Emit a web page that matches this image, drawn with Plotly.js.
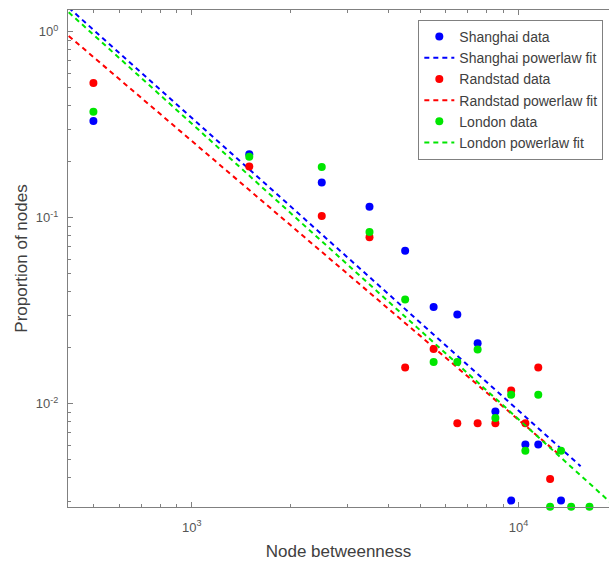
<!DOCTYPE html>
<html>
<head>
<meta charset="utf-8">
<script src="https://cdn.plot.ly/plotly-3.0.1.min.js"></script>
<style>
html,body{margin:0;padding:0;background:#fff;}
#chart{width:609px;height:561px;}
</style>
</head>
<body>
<div id="chart"></div>
<script>
// Bin centres of node betweenness
const shanghaiX = [500, 1500, 2500, 3500, 4500, 5500, 6500, 7500, 8500, 9500, 10500, 11500, 13500];
const shanghaiY = [0.332, 0.220, 0.155, 0.1146, 0.0665, 0.0332, 0.0302, 0.0212, 0.0091, 0.00302, 0.00604, 0.00604, 0.00302];

const randstadX = [500, 1500, 2500, 3500, 4500, 5500, 6500, 7500, 8500, 9500, 10500, 11500, 12500];
const randstadY = [0.5315, 0.189, 0.1024, 0.0787, 0.0157, 0.0197, 0.00787, 0.00787, 0.00787, 0.0118, 0.00787, 0.0157, 0.00394];

const londonX = [500, 1500, 2500, 3500, 4500, 5500, 6500, 7500, 8500, 9500, 10500, 11500, 12500, 13500, 14500, 16500];
const londonY = [0.3725, 0.213, 0.1877, 0.084, 0.0364, 0.0168, 0.0168, 0.0196, 0.0084, 0.0112, 0.0056, 0.0112, 0.0028, 0.0056, 0.0028, 0.0028];

// Power-law fit lines: end points
const shanghaiFitX = [420, 15500];
const shanghaiFitY = [1.35, 0.00462];
const randstadFitX = [420, 13500];
const randstadFitY = [0.951, 0.00524];
const londonFitX = [420, 20000];
const londonFitY = [1.274, 0.00275];

const xTickVals = [1000, 10000];
const xTickText = ['10<sup>3</sup>', '10<sup>4</sup>'];
const yTickVals = [0.01, 0.1, 1];
const yTickText = ['10<sup>-2</sup>', '10<sup>-1</sup>', '10<sup>0</sup>'];
const xMinorVals = [500, 600, 700, 800, 900, 2000, 3000, 4000, 5000, 6000, 7000, 8000, 9000];
const yMinorVals = [0.003, 0.004, 0.005, 0.006, 0.007, 0.008, 0.009,
                    0.02, 0.03, 0.04, 0.05, 0.06, 0.07, 0.08, 0.09,
                    0.2, 0.3, 0.4, 0.5, 0.6, 0.7, 0.8, 0.9];

const BLUE = '#0000ff', RED = '#ff0000', GREEN = '#00e600';
const mk = (c) => ({color: c, size: 8});
const ln = (c) => ({color: c, width: 2, dash: '5px,4px'});

const traces = [
  {x: shanghaiX, y: shanghaiY, mode: 'markers', name: 'Shanghai data', marker: mk(BLUE), cliponaxis: false},
  {x: shanghaiFitX, y: shanghaiFitY, mode: 'lines', name: 'Shanghai powerlaw fit', line: ln(BLUE)},
  {x: randstadX, y: randstadY, mode: 'markers', name: 'Randstad data', marker: mk(RED), cliponaxis: false},
  {x: randstadFitX, y: randstadFitY, mode: 'lines', name: 'Randstad powerlaw fit', line: ln(RED)},
  {x: londonX, y: londonY, mode: 'markers', name: 'London data', marker: mk(GREEN), cliponaxis: false},
  {x: londonFitX, y: londonFitY, mode: 'lines', name: 'London powerlaw fit', line: ln(GREEN)}
];

const axisCommon = {
  type: 'log',
  showgrid: false,
  zeroline: false,
  showline: true,
  linecolor: '#808080',
  linewidth: 1,
  ticks: 'inside',
  ticklen: 5,
  tickcolor: '#808080',
  tickfont: {family: 'Liberation Sans, Arial, sans-serif', size: 13, color: '#555555'},
  tickmode: 'array'
};

const layout = {
  width: 609,
  height: 561,
  margin: {l: 68, r: 0, t: 10, b: 54},
  paper_bgcolor: '#ffffff',
  plot_bgcolor: '#ffffff',
  font: {family: 'Liberation Sans, Arial, sans-serif', color: '#404040'},
  showlegend: true,
  xaxis: Object.assign({}, axisCommon, {
    range: [Math.log10(418), 4.2772],
    tickvals: xTickVals,
    ticktext: xTickText,
    mirror: 'ticks',
    ticklabelstandoff: 8,
    minor: {tickmode: 'array', tickvals: xMinorVals, ticks: 'inside', ticklen: 3, tickcolor: '#808080', showgrid: false},
    title: {text: 'Node betweenness', font: {size: 17, color: '#404040'}, standoff: 12}
  }),
  yaxis: Object.assign({}, axisCommon, {
    range: [-2.5545, 0.1175],
    tickvals: yTickVals,
    ticktext: yTickText,
    ticklabelstandoff: 6,
    minor: {tickmode: 'array', tickvals: yMinorVals, ticks: 'inside', ticklen: 3, tickcolor: '#808080', showgrid: false},
    title: {text: 'Proportion of nodes', font: {size: 17, color: '#404040'}, standoff: 3}
  }),
  legend: {
    x: 0.9895, xanchor: 'right',
    y: 0.98, yanchor: 'top',
    bgcolor: '#ffffff',
    bordercolor: '#808080',
    borderwidth: 1,
    font: {family: 'Liberation Sans, Arial, sans-serif', size: 14, color: '#404040'},
    tracegroupgap: 0,
    itemwidth: 30
  }
};

Plotly.newPlot('chart', traces, layout, {displayModeBar: false, staticPlot: true});
</script>
</body>
</html>
